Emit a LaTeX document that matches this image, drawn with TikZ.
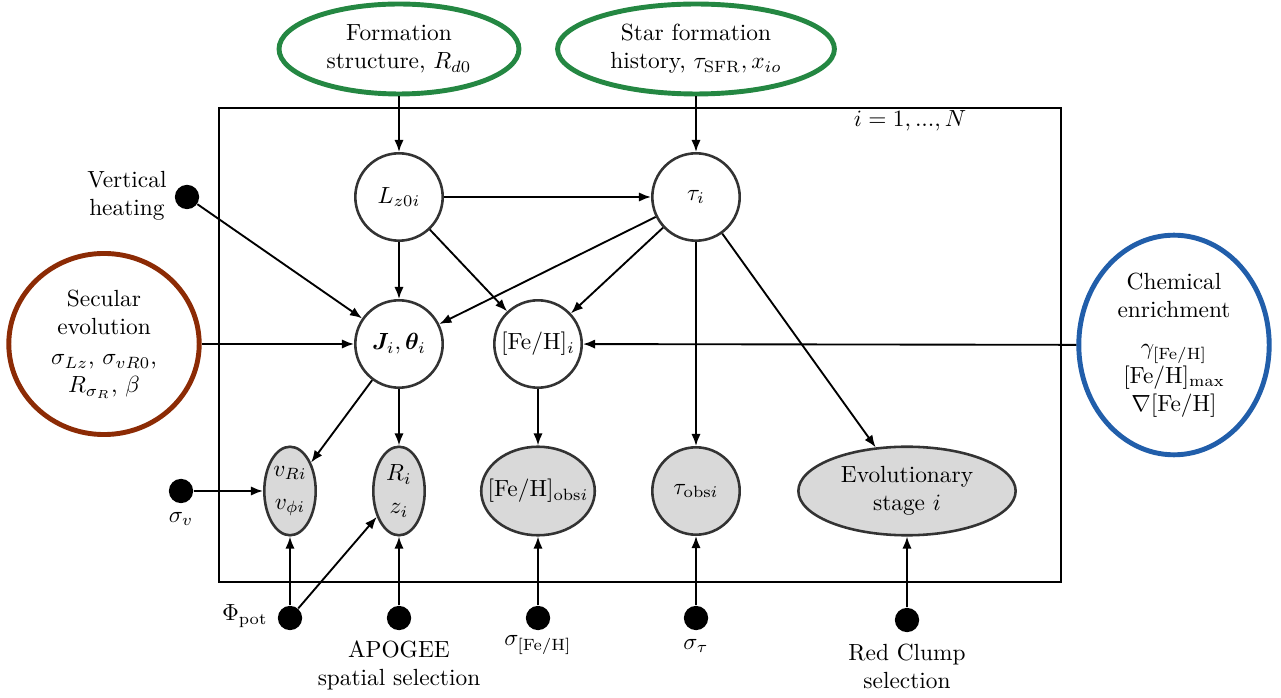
\documentclass[tikz,border=0pt]{standalone}
\usepackage{amsmath,bm}
\usetikzlibrary{arrows.meta,shapes.geometric}
\definecolor{cgreen}{RGB}{36,135,66}
\definecolor{cbrown}{RGB}{140,43,5}
\definecolor{cblue}{RGB}{33,94,170}
\begin{document}
\begin{tikzpicture}[x=0.428pt,y=-0.428pt,
  latent/.style={circle,draw=black!80,line width=1.1pt,minimum size=37.4pt,inner sep=0pt},
  obs/.style={ellipse,draw=black!80,line width=1.1pt,fill=black!15,inner sep=0pt,align=center},
  hyper/.style={ellipse,line width=2.1pt,inner sep=0pt,align=center},
  dot/.style={circle,fill=black,minimum size=10.4pt,inner sep=0pt},
  lab/.style={align=center,inner sep=0pt},
  edge/.style={thick,-{Latex[length=5.2pt,width=4pt]}}
]
\useasboundingbox (0,0) rectangle (1281,698);

% plate
\draw[line width=0.45pt] (219,108) rectangle (1061,582);
\node[lab] (plate) at (910,121) {$i=1,...,N$};

% hyperparameter ellipses
\node[hyper,draw=cgreen,minimum width=102.7pt,minimum height=38.5pt] (form) at (399,49)
  {Formation\\structure, $R_{d0}$};
\node[hyper,draw=cgreen,minimum width=118.5pt,minimum height=38.5pt] (sfh) at (696,49)
  {Star formation\\history, $\tau_{\mathrm{SFR}}, x_{io}$};
\node[hyper,draw=cbrown,minimum width=81.5pt,minimum height=77.5pt] (sec) at (104,344)
  {\makebox[0pt]{\begin{tabular}{@{}c@{}}Secular\\evolution\\[1pt]$\sigma_{Lz}$, $\sigma_{vR0}$,\\$R_{\sigma_R}$, $\beta$\end{tabular}}};
\node[hyper,draw=cblue,minimum width=81.5pt,minimum height=94pt] (chem) at (1174,345)
  {Chemical\\enrichment\\[4pt]$\gamma_{\mathrm{[Fe/H]}}$\\$[\mathrm{Fe/H}]_{\mathrm{max}}$\\$\nabla[\mathrm{Fe/H}]$};

% latent nodes
\node[latent] (Lz) at (399,197) {$L_{z0i}$};
\node[latent] (tau) at (696,197) {$\tau_i$};
\node[latent] (J) at (399,344) {$\bm{J}_i, \bm{\theta}_i$};
\node[latent] (feh) at (538,344) {$[\mathrm{Fe/H}]_i$};

% observed nodes
\node[obs,minimum width=22pt,minimum height=37.9pt] (v) at (290,491) {$v_{Ri}$\\[2pt]$v_{\phi i}$};
\node[obs,minimum width=22pt,minimum height=37.9pt] (Rz) at (399,491) {$R_i$\\[2pt]$z_i$};
\node[obs,minimum width=48.6pt,minimum height=37.9pt] (fehobs) at (538,491) {\makebox[0pt]{$[\mathrm{Fe/H}]_{\mathrm{obs}i}$}};
\node[obs,circle,minimum size=37.4pt] (tauobs) at (696,491) {$\tau_{\mathrm{obs}i}$};
\node[obs,minimum width=93pt,minimum height=37.9pt] (evol) at (907,491) {Evolutionary\\stage $i$};

% fixed parameters (dots)
\node[dot] (vh) at (187,197) {};
\node[lab,anchor=east] (vhl) at (167,196) {Vertical\\heating};
\node[dot] (sv) at (181,491) {};
\node[lab] (svl) at (181,519) {$\sigma_v$};
\node[dot] (phi) at (290,618) {};
\node[lab,anchor=east] (phil) at (268,616) {$\Phi_{\mathrm{pot}}$};
\node[dot] (apo) at (399,618) {};
\node[lab] (apol) at (399,665) {APOGEE\\spatial selection};
\node[dot] (sfeh) at (538,618) {};
\node[lab] (sfehl) at (538,645) {$\sigma_{[\mathrm{Fe/H}]}$};
\node[dot] (stau) at (696,618) {};
\node[lab] (staul) at (696,646) {$\sigma_\tau$};
\node[dot] (rc) at (907,620) {};
\node[lab] (rcl) at (907,666) {Red Clump\\selection};

% edges
\draw[edge] (form) -- (Lz);
\draw[edge] (sfh) -- (tau);
\draw[edge] (Lz) -- (tau);
\draw[edge] (Lz) -- (J);
\draw[edge] (Lz) -- (feh);
\draw[edge] (tau) -- (J);
\draw[edge] (tau) -- (feh);
\draw[edge] (tau) -- (tauobs);
\draw[edge] (tau) -- (evol);
\draw[edge] (vh) -- (J);
\draw[edge] (sec) -- (J);
\draw[edge] (chem) -- (feh);
\draw[edge] (J) -- (v);
\draw[edge] (J) -- (Rz);
\draw[edge] (feh) -- (fehobs);
\draw[edge] (sv) -- (v);
\draw[edge] (phi) -- (v);
\draw[edge] (phi) -- (Rz);
\draw[edge] (apo) -- (Rz);
\draw[edge] (sfeh) -- (fehobs);
\draw[edge] (stau) -- (tauobs);
\draw[edge] (rc) -- (evol);
\end{tikzpicture}
\end{document}
